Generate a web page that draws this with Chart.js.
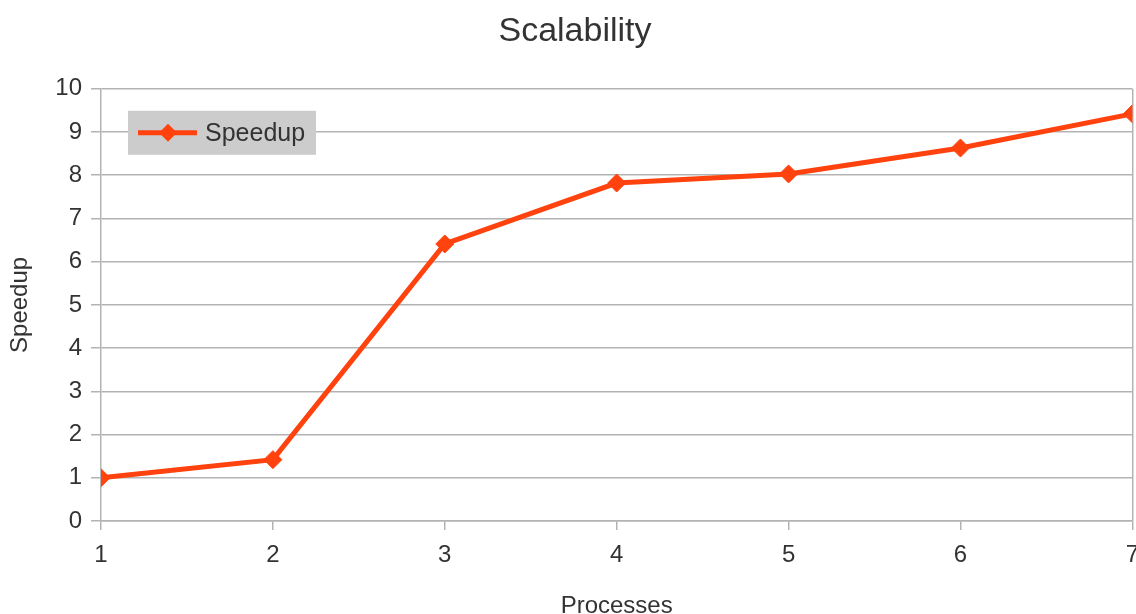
<!DOCTYPE html>
<html>
<head>
<meta charset="utf-8">
<script src="https://cdn.jsdelivr.net/npm/chart.js@4/dist/chart.umd.min.js"></script>
<style>
  html, body { margin: 0; padding: 0; background: #fff; }
  #wrap { width: 1136px; height: 614px; overflow: hidden; position: relative; }
  canvas { display: block; }
</style>
</head>
<body>
<div id="wrap"><canvas id="chart" width="1150" height="630"></canvas></div>
<script>
// データ
const processes = [1, 2, 3, 4, 5, 6, 7];
const speedup = [1.0, 1.42, 6.41, 7.82, 8.03, 8.63, 9.42];
const seriesLabel = 'Speedup';
const yTicks = [0, 1, 2, 3, 4, 5, 6, 7, 8, 9, 10];

const lineColor = '#ff420e';
const gridColor = '#b3b3b3';
const textColor = '#333333';
const fontFamily = '"Liberation Sans", Arial, sans-serif';

// 凡例（プロット内のグレーボックス）
const insideLegend = {
  id: 'insideLegend',
  afterDraw(chart) {
    const ctx = chart.ctx;
    const area = chart.chartArea;
    const ds = chart.data.datasets[0];
    const x = area.left + 27;
    const y = area.top + 22;
    const w = 188, h = 44;
    const cy = y + h / 2;
    ctx.save();
    ctx.fillStyle = '#cccccc';
    ctx.fillRect(x, y, w, h);
    ctx.strokeStyle = ds.borderColor;
    ctx.lineWidth = 5;
    ctx.beginPath();
    ctx.moveTo(x + 10, cy);
    ctx.lineTo(x + 69, cy);
    ctx.stroke();
    ctx.fillStyle = ds.borderColor;
    ctx.beginPath();
    ctx.moveTo(x + 40 - 9, cy);
    ctx.lineTo(x + 40, cy - 9);
    ctx.lineTo(x + 40 + 9, cy);
    ctx.lineTo(x + 40, cy + 9);
    ctx.closePath();
    ctx.fill();
    ctx.fillStyle = textColor;
    ctx.font = '25px ' + fontFamily;
    ctx.textBaseline = 'middle';
    ctx.textAlign = 'left';
    ctx.fillText(ds.label, x + 77, cy + 1);
    ctx.restore();
  }
};

new Chart(document.getElementById('chart'), {
  type: 'line',
  data: {
    datasets: [{
      label: seriesLabel,
      data: processes.map((p, i) => ({ x: p, y: speedup[i] })),
      borderColor: lineColor,
      backgroundColor: lineColor,
      borderWidth: 5,
      pointStyle: 'rectRot',
      pointRadius: 9,
      pointBorderWidth: 1,
      pointBackgroundColor: lineColor,
      pointBorderColor: lineColor,
      tension: 0,
      fill: false
    }]
  },
  options: {
    responsive: false,
    animation: false,
    layout: { padding: { left: 0, right: 0, top: 0, bottom: 0 } },
    plugins: {
      legend: { display: false },
      tooltip: { enabled: false },
      title: {
        display: true,
        text: 'Scalability',
        color: textColor,
        font: { family: fontFamily, size: 34, weight: 'normal' },
        padding: { top: 11, bottom: 37 }
      }
    },
    scales: {
      x: {
        type: 'linear',
        min: processes[0],
        max: processes[processes.length - 1],
        afterBuildTicks: (scale) => { scale.ticks = processes.map(v => ({ value: v })); },
        afterFit: (scale) => { scale.height = 109; },
        grid: {
          drawOnChartArea: true,
          color: (c) => (c.index === processes.length - 1 ? gridColor : 'transparent'),
          tickColor: gridColor,
          tickLength: 9,
          lineWidth: 1.5
        },
        border: { display: true, color: gridColor, width: 1.5 },
        ticks: {
          color: textColor,
          padding: 11,
          maxRotation: 0,
          font: { family: fontFamily, size: 24 }
        },
        title: {
          display: true,
          text: 'Processes',
          color: textColor,
          font: { family: fontFamily, size: 24 },
          padding: { top: 4, bottom: 9 }
        }
      },
      y: {
        min: yTicks[0],
        max: yTicks[yTicks.length - 1],
        afterBuildTicks: (scale) => { scale.ticks = yTicks.map(v => ({ value: v })); },
        afterFit: (scale) => { scale.width = 101; },
        grid: {
          color: gridColor,
          tickColor: gridColor,
          tickLength: 10,
          lineWidth: 1.5
        },
        border: { display: true, color: gridColor, width: 1.5 },
        ticks: {
          color: textColor,
          padding: 9,
          font: { family: fontFamily, size: 24 }
        },
        title: {
          display: true,
          text: 'Speedup',
          color: textColor,
          font: { family: fontFamily, size: 24 },
          padding: { top: 6, bottom: 4 }
        }
      }
    }
  },
  plugins: [insideLegend]
});
</script>
</body>
</html>
